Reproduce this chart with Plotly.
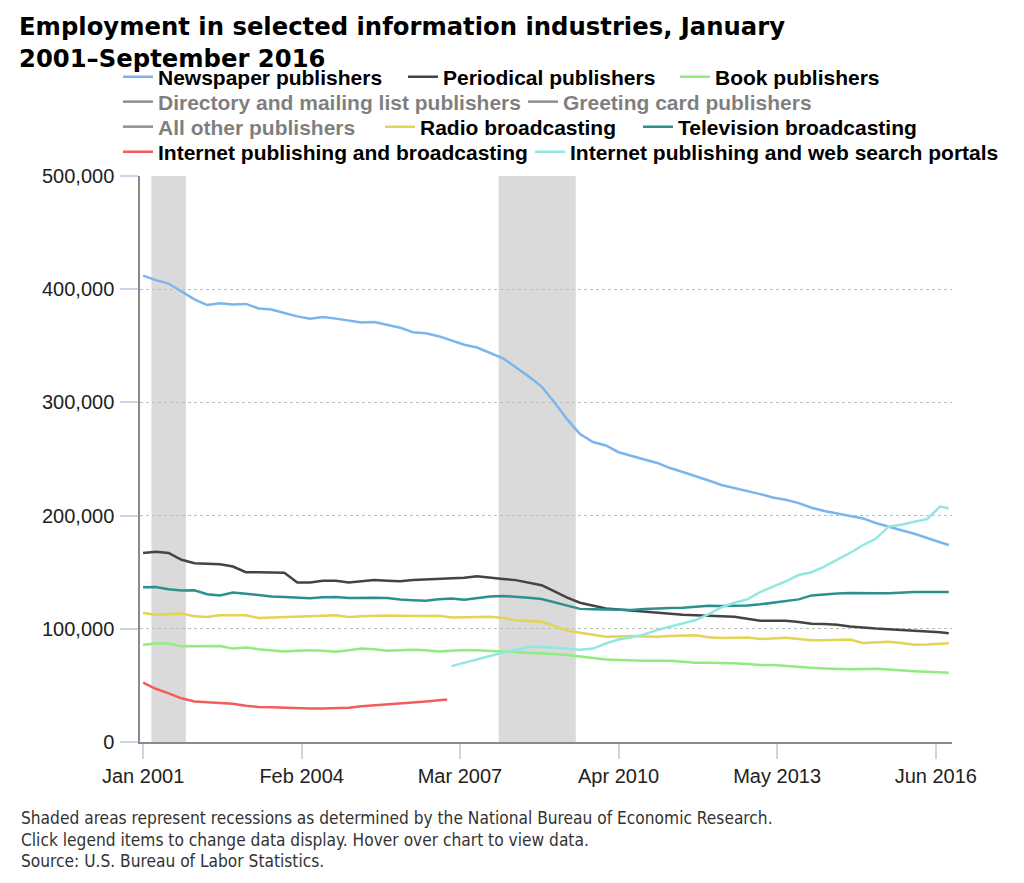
import pandas as pd
import plotly.graph_objects as go

# ---------------- data (employment, persons) ----------------
quarter_dates = [d.strftime("%Y-%m-%d") for d in pd.date_range("2001-01-01", "2016-07-01", freq="QS-JAN")] + ["2016-09-01"]
red_dates = [d.strftime("%Y-%m-%d") for d in pd.date_range("2001-01-01", "2006-10-01", freq="QS-JAN")] + ["2006-12-01"]
cyan_dates = [d.strftime("%Y-%m-%d") for d in pd.date_range("2007-01-01", "2016-07-01", freq="QS-JAN")] + ["2016-09-01"]
hidden_dates = ["2001-01-01"]

newspaper = [412000, 408000, 405000, 398000, 391000, 386000, 387500, 386500, 387000, 383000, 382000, 379000,
             376000, 374000, 375500, 374000, 372000, 370500, 371000, 368500, 366000, 362000, 361000, 358500,
             355000, 351000, 348500, 344000, 339000, 331000, 323000, 314000, 300000, 285000, 272000, 265000,
             262000, 256000, 252500, 249500, 246500, 242000, 238500, 235000, 231000, 227000, 224500, 222000,
             219000, 216000, 214000, 211000, 207000, 204000, 202000, 199500, 197500, 193500, 190000, 187000,
             184000, 180000, 176500, 174000]
periodical = [167000, 168000, 167000, 161000, 158000, 157500, 157000, 155000, 150000, 150000, 150000, 149500,
              141000, 141000, 142500, 142500, 141000, 142000, 143000, 142500, 142000, 143000, 143500, 143500,
              144000, 145000, 146500, 145000, 144000, 143000, 141000, 138500, 133000, 127500, 123000, 120500,
              118000, 117000, 116000, 115000, 114000, 113500, 112500, 112000, 111300, 111000, 110700, 109000,
              107200, 107200, 107200, 106000, 104500, 104200, 103500, 102000, 100800, 100200, 99600, 99000,
              98400, 97800, 97000, 96000]
book = [86000, 87000, 87000, 84500, 84500, 84700, 84800, 82500, 83500, 82000, 80700, 80000,
        80500, 81000, 80500, 79800, 81000, 82500, 82000, 80700, 81000, 81500, 81000, 80000,
        80500, 81200, 81000, 80500, 80000, 79500, 79200, 78800, 77700, 76800, 75500, 74000,
        72800, 72500, 72000, 71800, 71800, 71800, 71000, 70000, 70000, 70000, 69500, 68800,
        68000, 68000, 67000, 66000, 65500, 65000, 64500, 64200, 64500, 64800, 64000, 63000,
        62500, 62000, 61500, 61200]
# hidden series (legend only in the reference, values not shown)
directory = [None]
greeting = [None]
all_other = [None]
radio = [114000, 112500, 113000, 113500, 111000, 110500, 112000, 112300, 112000, 109500, 109800, 110000,
         110500, 111000, 111500, 112000, 110500, 111000, 111500, 111800, 111500, 111300, 111400, 111600,
         110000, 110200, 110500, 110700, 109500, 107500, 106800, 106200, 102500, 98500, 96500, 94500,
         93000, 93300, 93600, 93200, 93000, 93600, 94000, 94300, 92500, 91800, 92200, 92400,
         91000, 91500, 92000, 91000, 89800, 89800, 90200, 90600, 87500, 88000, 88500, 87500,
         86000, 86200, 86800, 87200]
television = [136600, 137000, 135000, 133800, 134000, 130500, 129500, 132000, 131000, 129600, 128500, 128000,
              127500, 127000, 127800, 128200, 127200, 127500, 127500, 127300, 125800, 125300, 124800, 126000,
              126800, 125600, 127000, 128600, 129000, 128500, 127500, 126300, 123400, 120000, 117600, 117200,
              117200, 117000, 116700, 117500, 118100, 118300, 118600, 119500, 120300, 120200, 120100, 120600,
              121600, 123000, 124700, 126000, 129500, 130500, 131200, 131600, 131800, 131400, 131300, 132000,
              132600, 132500, 132500, 132500]
internet_pub_broad = [52500, 47000, 43000, 38600, 35800, 35000, 34200, 33800, 32000, 31000, 30700, 30200,
                      29800, 29700, 29700, 29800, 30300, 31500, 32500, 33500, 34200, 35000, 35800, 36600, 37500]
internet_web_search = [67000, 70000, 73500, 76000, 78800, 81500, 84000, 84000, 83500, 82500, 81500, 82500,
                       87000, 90500, 92500, 95000, 99000, 102000, 105000, 107700, 113000, 119000, 123000, 126000,
                       132500, 137000, 142000, 147500, 150000, 155000, 161000, 167000, 174000, 179500, 190300, 192000,
                       194500, 197000, 208000, 206500]

recessions = [("2001-03-01", "2001-11-01"), ("2007-12-01", "2009-06-01")]

x_tick_dates = ["2001-01-01", "2004-02-01", "2007-03-01", "2010-04-01", "2013-05-01", "2016-06-01"]
x_tick_labels = ["Jan 2001", "Feb 2004", "Mar 2007", "Apr 2010", "May 2013", "Jun 2016"]
y_tick_vals = [0, 100000, 200000, 300000, 400000, 500000]
y_tick_labels = ["0", "100,000", "200,000", "300,000", "400,000", "500,000"]

title_text = "Employment in selected information industries, January<br>2001\u2013September 2016"
notes = ["Shaded areas represent recessions as determined by the National Bureau of Economic Research.",
         "Click legend items to change data display. Hover over chart to view data.",
         "Source: U.S. Bureau of Labor Statistics."]

# ---------------- layout constants ----------------
W, H = 1024, 883
L, R, T, B = 140, 72, 176, 141

series = [
    ("Newspaper publishers", quarter_dates, newspaper, "#7cb5ec", True, (158, 77)),
    ("Periodical publishers", quarter_dates, periodical, "#434348", True, (443, 77)),
    ("Book publishers", quarter_dates, book, "#90ed7d", True, (715, 77)),
    ("Directory and mailing list publishers", hidden_dates, directory, "#222222", "legendonly", (158, 102)),
    ("Greeting card publishers", hidden_dates, greeting, "#222222", "legendonly", (563, 102)),
    ("All other publishers", hidden_dates, all_other, "#222222", "legendonly", (158, 127)),
    ("Radio broadcasting", quarter_dates, radio, "#e4d354", True, (420, 127)),
    ("Television broadcasting", quarter_dates, television, "#2b908f", True, (678, 127)),
    ("Internet publishing and broadcasting", red_dates, internet_pub_broad, "#f45b5b", True, (158, 152)),
    ("Internet publishing and web search portals", cyan_dates, internet_web_search, "#91e8e1", True, (570, 152)),
]

fig = go.Figure()
legend_layouts = {}
for i, (name, xs, ys, color, vis, (tx, ty)) in enumerate(series):
    lid = "legend" if i == 0 else f"legend{i+1}"
    fig.add_trace(go.Scatter(
        x=xs, y=ys, name=name, mode="lines", visible=vis,
        line=dict(color=color, width=2.5), legend=lid,
        hovertemplate="%{x|%b %Y}<br>%{y:,}<extra>" + name + "</extra>",
    ))
    legend_layouts[lid] = dict(
        xref="container", yref="container",
        x=(tx - 40) / W, y=1 - ty / H, xanchor="left", yanchor="middle",
        orientation="h", bgcolor="rgba(0,0,0,0)", borderwidth=0,
        font=dict(family="Liberation Sans, Arial, sans-serif", size=21, color="#000000", weight="bold"),
        itemclick="toggle",
    )

for (x0, x1) in recessions:
    fig.add_vrect(x0=x0, x1=x1, fillcolor="#dadada", opacity=1, line_width=0, layer="below")

def paper(px, py):
    return (px - L) / (W - L - R), (H - B - py) / (H - T - B)

for txt, py in zip(notes, [818, 840, 861]):
    ax, ay = paper(19, py)
    fig.add_annotation(text=txt, x=ax, y=ay, xref="paper", yref="paper", xanchor="left", yanchor="middle",
                       showarrow=False, font=dict(family="DejaVu Sans Condensed, DejaVu Sans, sans-serif",
                                                  size=17.2, color="#333333"))

fig.update_layout(
    width=W, height=H,
    margin=dict(l=L, r=R, t=T, b=B, pad=0, autoexpand=False),
    paper_bgcolor="white", plot_bgcolor="white",
    title=dict(text=title_text, x=19 / W, xref="container", xanchor="left",
               y=1 - 35 / H, yref="container", yanchor="top",
               font=dict(family="DejaVu Sans, sans-serif", size=24.3, color="#000000", weight="bold")),
    showlegend=True,
    hovermode="x unified",
    **legend_layouts,
)

fig.update_xaxes(
    type="date", range=["2000-12-10", "2016-09-24"],
    tickvals=x_tick_dates, ticktext=x_tick_labels,
    showgrid=False, zeroline=False,
    showline=True, linecolor="#8a8a8a", linewidth=1.5,
    ticks="outside", ticklen=15, tickwidth=1.5, tickcolor="#ccd6eb",
    tickfont=dict(family="Liberation Sans, Arial, sans-serif", size=20, color="#222222"),
)
fig.update_yaxes(
    range=[0, 500000], tickvals=y_tick_vals, ticktext=y_tick_labels,
    showgrid=True, gridcolor="#bdbdbd", griddash="dot", gridwidth=1,
    zeroline=False,
    showline=True, linecolor="#8a8a8a", linewidth=1.5,
    ticks="outside", ticklen=18, tickwidth=1.5, tickcolor="#ccd6eb",
    ticklabelstandoff=2,
    tickfont=dict(family="Liberation Sans, Arial, sans-serif", size=20, color="#222222"),
)

fig.write_html("out.html", config={"displayModeBar": False},
               post_script="document.body.style.margin='0';document.body.style.overflow='hidden';")
